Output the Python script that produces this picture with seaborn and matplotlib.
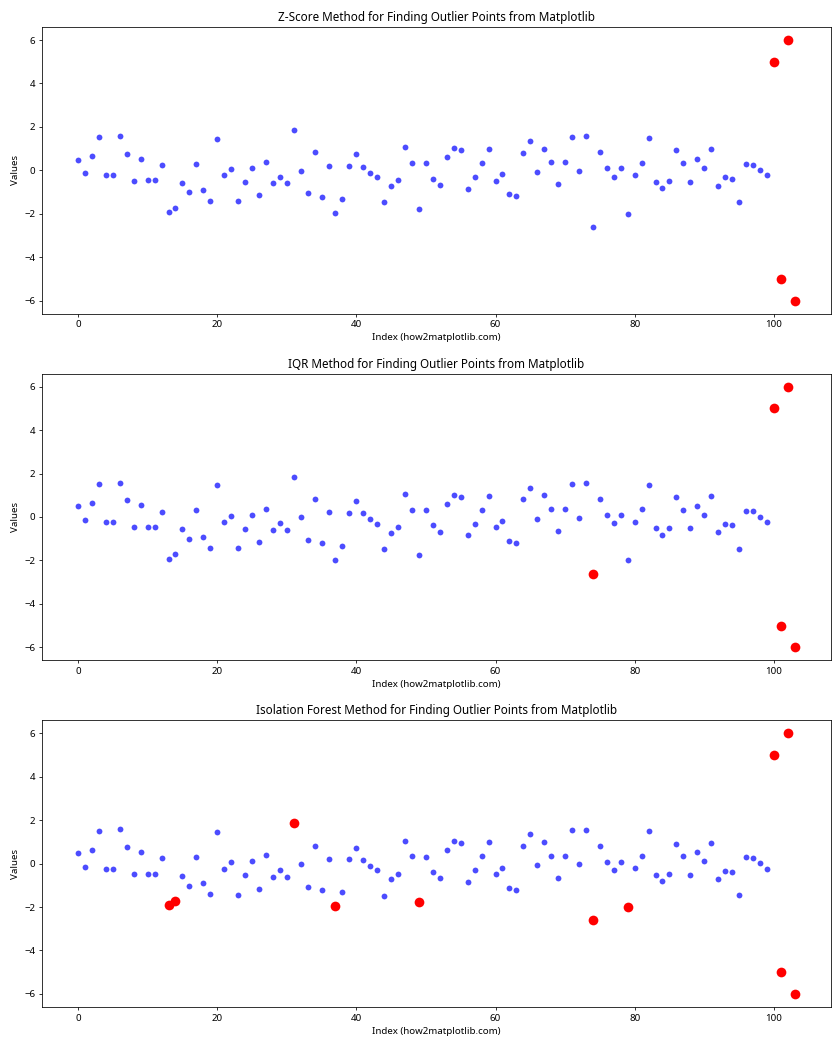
import matplotlib
matplotlib.use("Agg")
import matplotlib.pyplot as plt
import seaborn as sns
import pandas as pd

values = [0.4967, -0.1383, 0.6477, 1.5230, -0.2342, -0.2341, 1.5792, 0.7674, -0.4695, 0.5426,
          -0.4634, -0.4657, 0.2420, -1.9133, -1.7249, -0.5623, -1.0128, 0.3142, -0.9080, -1.4123,
          1.4656, -0.2258, 0.0675, -1.4247, -0.5444, 0.1109, -1.1510, 0.3757, -0.6006, -0.2917,
          -0.6017, 1.8523, -0.0135, -1.0577, 0.8225, -1.2208, 0.2089, -1.9597, -1.3282, 0.1969,
          0.7385, 0.1714, -0.1156, -0.3011, -1.4785, -0.7198, -0.4606, 1.0571, 0.3436, -1.7630,
          0.3241, -0.3851, -0.6769, 0.6117, 1.0310, 0.9313, -0.8392, -0.3092, 0.3313, 0.9755,
          -0.4792, -0.1857, -1.1063, -1.1962, 0.8125, 1.3562, -0.0720, 1.0035, 0.3616, -0.6451,
          0.3614, 1.5380, -0.0358, 1.5646, -2.6197, 0.8219, 0.0870, -0.2990, 0.0918, -1.9876,
          -0.2196, 0.3571, 1.4779, -0.5183, -0.8085, -0.5018, 0.9154, 0.3287, -0.5298, 0.5133,
          0.0971, 0.9686, -0.7021, -0.3277, -0.3921, -1.4635, 0.2961, 0.2611, 0.0051, -0.2346,
          5.0, -5.0, 6.0, -6.0]

zscore_outliers = [100, 101, 102, 103]
iqr_outliers = [74, 100, 101, 102, 103]
iforest_outliers = [13, 14, 31, 37, 49, 74, 79, 100, 101, 102, 103]

titles = ["Z-Score Method for Finding Outlier Points from Matplotlib",
          "IQR Method for Finding Outlier Points from Matplotlib",
          "Isolation Forest Method for Finding Outlier Points from Matplotlib"]
xlabel = "Index (how2matplotlib.com)"
ylabel = "Values"

plt.rcParams['font.family'] = ['Noto Sans', 'DejaVu Sans']
plt.rcParams['font.size'] = 10

df = pd.DataFrame({"index": range(len(values)), "value": values})

fig, axes = plt.subplots(3, 1, figsize=(12, 15), dpi=70)
for ax, title, outs in zip(axes, titles, [zscore_outliers, iqr_outliers, iforest_outliers]):
    sns.scatterplot(data=df, x="index", y="value", color="blue", alpha=0.7,
                    s=36, linewidth=0, ax=ax)
    sub = df.iloc[outs]
    sns.scatterplot(data=sub, x="index", y="value", color="red", s=100,
                    linewidth=0, ax=ax)
    ax.set_title(title, fontsize=12)
    ax.set_xlabel(xlabel)
    ax.set_ylabel(ylabel)

fig.subplots_adjust(left=0.0503, right=0.9887, top=0.9743, bottom=0.0410, hspace=0.209)
fig.savefig("out.png", dpi=70)
